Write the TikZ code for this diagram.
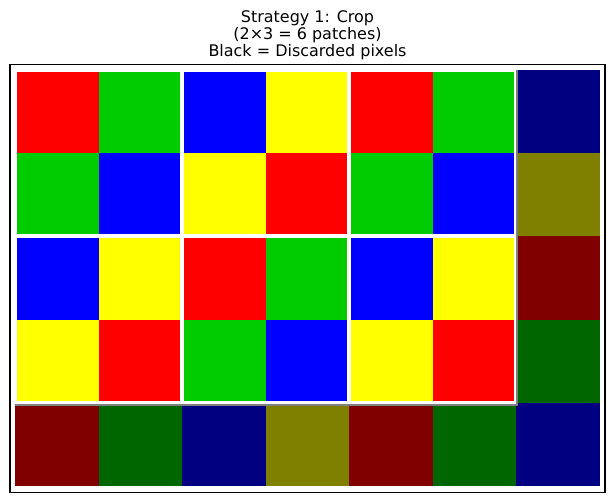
\documentclass[tikz,border=0pt]{standalone}
\usepackage{fontspec}
\setmainfont{DejaVu Sans}
% kept colours and their darkened (discarded) versions
\definecolor{c0}{RGB}{255,0,0}
\definecolor{c1}{RGB}{0,204,0}
\definecolor{c2}{RGB}{0,0,255}
\definecolor{c3}{RGB}{255,255,0}
\definecolor{d0}{RGB}{128,0,0}
\definecolor{d1}{RGB}{0,102,0}
\definecolor{d2}{RGB}{0,0,128}
\definecolor{d3}{RGB}{128,128,0}
\tikzset{patchbox/.style={draw=white, line width=2.9pt}}

\begin{document}
\begin{tikzpicture}[x=0.72pt,y=-0.72pt]
\useasboundingbox (0,0) rectangle (614,502);
\def\wx{83.571}
\def\hy{83.2}

\node[align=center, inner sep=0pt, font=\fontsize{11.5}{12.1}\selectfont] (title) at (307.5,35.5)
  {Strategy 1: Crop\\(2×3 = 6 patches)\\Black = Discarded pixels};

% grid of cells: 7 columns x 5 rows
\foreach \r in {0,...,4} {
  \foreach \c in {0,...,6} {
    \pgfmathtruncatemacro\k{mod(\r+\c,4)}
    \ifnum\r<4 \ifnum\c<6 \def\pre{c}\else\def\pre{d}\fi \else\def\pre{d}\fi
    \fill[\pre\k] ({15+\c*\wx},{70+\r*\hy}) rectangle ({15+(\c+1)*\wx},{70+(\r+1)*\hy});
  }
}

% 2x3 patches of 2x2 cells
\foreach \pr in {0,1} {
  \foreach \pc in {0,1,2} {
    \draw[patchbox] ({15+2*\pc*\wx},{70+2*\pr*\hy}) rectangle ({15+(2*\pc+2)*\wx},{70+(2*\pr+2)*\hy});
  }
}

% edge of the kept region
\draw[gray, line width=1.44pt] (15,405) -- (517,405) -- (517,70);

% axes frame
\draw[black, line width=0.8pt] (10,64.5) rectangle (605,492.5);
\end{tikzpicture}
\end{document}
